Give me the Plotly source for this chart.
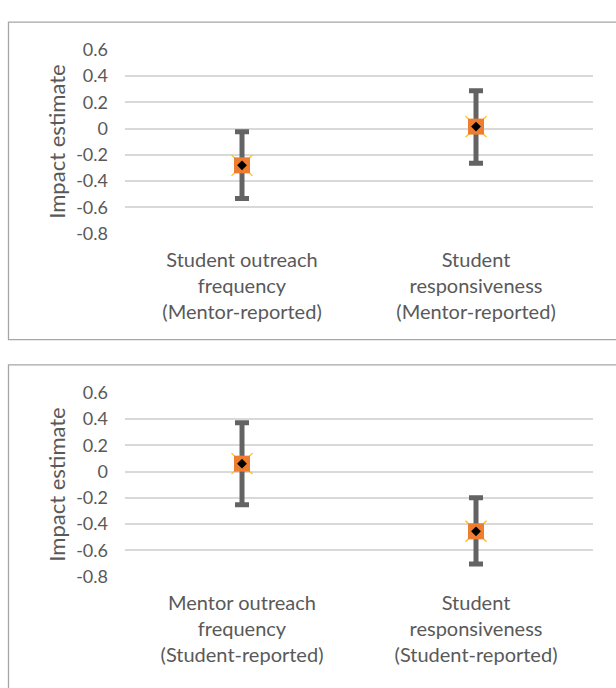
import plotly.graph_objects as go

# ---- data ----
top_categories = ["Student outreach<br>frequency<br>(Mentor-reported)",
                  "Student<br>responsiveness<br>(Mentor-reported)"]
top_estimate = [-0.28, 0.015]
top_upper = [-0.024, 0.287]
top_lower = [-0.533, -0.264]

bottom_categories = ["Mentor outreach<br>frequency<br>(Student-reported)",
                     "Student<br>responsiveness<br>(Student-reported)"]
bottom_estimate = [0.06, -0.455]
bottom_upper = [0.371, -0.2]
bottom_lower = [-0.253, -0.704]

y_ticks = [-0.8, -0.6, -0.4, -0.2, 0, 0.2, 0.4, 0.6]
y_ticktext = ["-0.8", "-0.6", "-0.4", "-0.2", "0", "0.2", "0.4", "0.6"]
y_title = "Impact estimate"

W, H = 616, 688
FONT = "Lato"
GREY = "#595959"

fig = go.Figure()


def add_panel(cats, est, hi, lo, xa, ya):
    plus = [h - e for h, e in zip(hi, est)]
    minus = [e - l for e, l in zip(est, lo)]
    fig.add_trace(go.Scatter(
        x=cats, y=est, mode="markers", xaxis=xa, yaxis=ya,
        marker=dict(symbol="x-thin", size=21, color="#FFC000",
                    line=dict(color="#FFC000", width=1.3)),
        error_y=dict(type="data", symmetric=False, array=plus, arrayminus=minus,
                     color="#636363", thickness=5, width=7),
        showlegend=False, cliponaxis=False, hoverinfo="skip"))
    fig.add_trace(go.Scatter(
        x=cats, y=est, mode="markers", xaxis=xa, yaxis=ya,
        marker=dict(symbol="square", size=16, color="#ED7D31",
                    line=dict(width=0)),
        showlegend=False, cliponaxis=False))
    fig.add_trace(go.Scatter(
        x=cats, y=est, mode="markers", xaxis=xa, yaxis=ya,
        marker=dict(symbol="diamond", size=7.5, color="#000000",
                    line=dict(width=0)),
        showlegend=False, cliponaxis=False, hoverinfo="skip"))


add_panel(top_categories, top_estimate, top_upper, top_lower, "x", "y")
add_panel(bottom_categories, bottom_estimate, bottom_upper, bottom_lower, "x2", "y2")


def px_x(v):
    return v / W


def px_y(v):
    return 1 - v / H


xdom = [px_x(125), px_x(593)]
top_dom = [px_y(229), px_y(39)]
bot_dom = [px_y(583.3), px_y(393.3)]

xaxis_common = dict(type="category", range=[-0.5, 1.5], showgrid=False,
                    showline=False, zeroline=False, ticks="",
                    tickfont=dict(family=FONT, size=20, color=GREY),
                    ticklabelstandoff=12, domain=xdom)
yaxis_common = dict(range=[-0.8, 0.6], tickvals=y_ticks, ticktext=y_ticktext,
                    showgrid=True, gridcolor="#D9D9D9", gridwidth=2,
                    zeroline=False, showline=False, ticks="",
                    tickfont=dict(family=FONT, size=18, color=GREY),
                    ticklabelstandoff=16)

fig.update_layout(
    width=W, height=H, margin=dict(l=0, r=0, t=0, b=0),
    paper_bgcolor="white", plot_bgcolor="white",
    xaxis=dict(**xaxis_common, anchor="y"),
    yaxis=dict(**yaxis_common, domain=top_dom, anchor="x"),
    xaxis2=dict(**xaxis_common, anchor="y2"),
    yaxis2=dict(**yaxis_common, domain=bot_dom, anchor="x2"),
    shapes=[
        dict(type="rect", xref="paper", yref="paper",
             x0=px_x(8.5), x1=1.05, y0=px_y(338.5), y1=px_y(10.5),
             line=dict(color="#A6A6A6", width=1.3), fillcolor="rgba(0,0,0,0)"),
        dict(type="rect", xref="paper", yref="paper",
             x0=px_x(8.5), x1=1.05, y0=-0.05, y1=px_y(364.5),
             line=dict(color="#A6A6A6", width=1.3), fillcolor="rgba(0,0,0,0)"),
    ],
    annotations=[
        dict(text=y_title, xref="paper", yref="paper", x=px_x(57),
             y=(top_dom[0] + top_dom[1]) / 2, textangle=-90, showarrow=False,
             xanchor="center", yanchor="middle",
             font=dict(family=FONT, size=22, color=GREY)),
        dict(text=y_title, xref="paper", yref="paper", x=px_x(57),
             y=(bot_dom[0] + bot_dom[1]) / 2, textangle=-90, showarrow=False,
             xanchor="center", yanchor="middle",
             font=dict(family=FONT, size=22, color=GREY)),
    ],
)

fig.write_html("out.html",
               config={"displayModeBar": False},
               post_script="document.body.style.margin='0';"
                           "document.body.style.overflow='hidden';")
